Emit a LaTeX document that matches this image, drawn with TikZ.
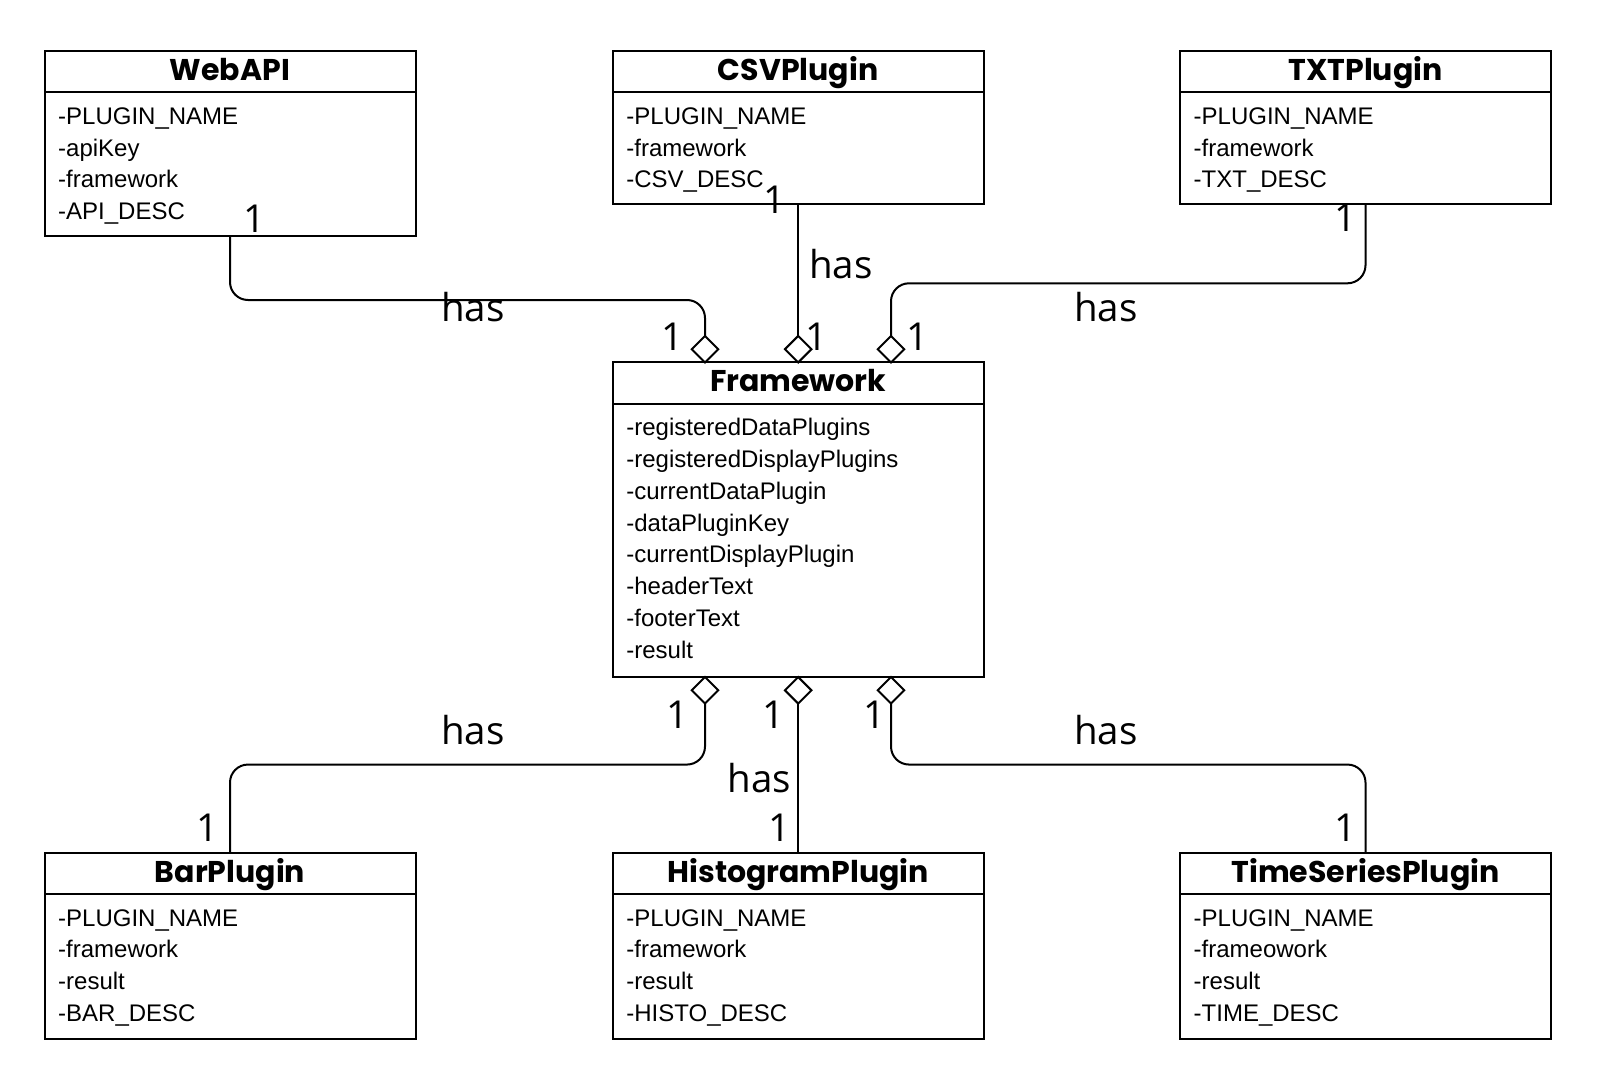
\documentclass[tikz,border=0pt]{standalone}
\usepackage{fontspec}
\setmainfont{Liberation Sans}
\newfontfamily\titlefont{Poppins}
\newfontfamily\labelfont{Open Sans}
\usetikzlibrary{shapes.geometric}
\tikzset{
  cls/.style={draw, line width=2pt, fill=white, inner sep=0pt, outer sep=0pt, minimum width=371pt, anchor=north west},
  ttl/.style={anchor=base, inner sep=0pt, font={\titlefont\bfseries\fontsize{30}{33}\selectfont}},
  attr/.style={anchor=base west, inner sep=0pt, font={\fontsize{24}{28}\selectfont}},
  lbl/.style={anchor=base, inner sep=0pt, font={\labelfont\fontsize{38.5}{44}\selectfont}},
  agg/.style={diamond, draw, line width=2pt, fill=white, inner sep=0pt, outer sep=0pt, minimum width=26.5pt, minimum height=26.5pt},
  conn/.style={draw, line width=2pt, rounded corners=18pt},
  divider/.style={line width=2pt}
}
\newcommand{\umlhead}[2]{%
  \draw[divider] ([yshift=-41.3pt]#1.north west) -- ([yshift=-41.3pt]#1.north east);
  \node[ttl] (#1-title) at ([yshift=-29.5pt]#1.north) {#2};
}
\newcommand{\umlrows}[2]{%
  \foreach \t [count=\i from 0] in {#2} {
    \node[attr] (#1-row\i) at ([xshift=13.5pt,yshift={-73.3pt-\i*31.8pt}]#1.north west) {\t};
  }
}
\begin{document}
\begin{tikzpicture}[x=1pt,y=-1pt]
\fill[white] (0,0) rectangle (1604,1086);
\useasboundingbox (0,0) rectangle (1604,1086);

% classes
\node[cls, minimum height=185.5pt] (webapi) at (44.5,51) {};
\umlhead{webapi}{WebAPI}
\umlrows{webapi}{-PLUGIN\_NAME,-apiKey,-framework,-API\_DESC}

\node[cls, minimum height=153.3pt] (csv) at (612.7,51) {};
\umlhead{csv}{CSVPlugin}
\umlrows{csv}{-PLUGIN\_NAME,-framework,-CSV\_DESC}

\node[cls, minimum height=153.3pt] (txt) at (1180,51) {};
\umlhead{txt}{TXTPlugin}
\umlrows{txt}{-PLUGIN\_NAME,-framework,-TXT\_DESC}

\node[cls, minimum height=314.4pt] (fw) at (612.7,362.3) {};
\umlhead{fw}{Framework}
\umlrows{fw}{-registeredDataPlugins,-registeredDisplayPlugins,-currentDataPlugin,-dataPluginKey,-currentDisplayPlugin,-headerText,-footerText,-result}

\node[cls, minimum height=186pt] (bar) at (44.5,852.7) {};
\umlhead{bar}{BarPlugin}
\umlrows{bar}{-PLUGIN\_NAME,-framework,-result,-BAR\_DESC}

\node[cls, minimum height=186pt] (histo) at (612.7,852.7) {};
\umlhead{histo}{HistogramPlugin}
\umlrows{histo}{-PLUGIN\_NAME,-framework,-result,-HISTO\_DESC}

\node[cls, minimum height=186pt] (ts) at (1180,852.7) {};
\umlhead{ts}{TimeSeriesPlugin}
\umlrows{ts}{-PLUGIN\_NAME,-frameowork,-result,-TIME\_DESC}

% aggregation diamonds
\node[agg] (dwa) at (705,349.2) {};
\node[agg] (dcsv) at (798.2,349.2) {};
\node[agg] (dtxt) at (891,349.2) {};
\node[agg] (dbar) at (705,690.3) {};
\node[agg] (dhis) at (798.2,690.3) {};
\node[agg] (dts) at (891,690.3) {};

% connectors
\draw[conn] (webapi.south) -- ++(0,63.5) -| (dwa.north);
\draw[conn] (csv.south) -- (dcsv.north);
\draw[conn] (txt.south) -- ++(0,79) -| (dtxt.north);
\draw[conn] (dbar.south) -- ++(0,61) -| (bar.north);
\draw[conn] (dhis.south) -- (histo.north);
\draw[conn] (dts.south) -- ++(0,61) -| (ts.north);

% association labels
\node[lbl] (has1) at (473,321) {has};
\node[lbl] (has2) at (841,279) {has};
\node[lbl] (has3) at (1106,321) {has};
\node[lbl] (has4) at (473,744) {has};
\node[lbl] (has5) at (759.5,792.7) {has};
\node[lbl] (has6) at (1106,744) {has};

% multiplicities
\node[lbl] (m1) at (255,233) {1};
\node[lbl] (m2) at (774,214) {1};
\node[lbl] (m3) at (1345,232) {1};
\node[lbl] (m4) at (672.5,350) {1};
\node[lbl] (m5) at (816.5,350) {1};
\node[lbl] (m6) at (917.5,350) {1};
\node[lbl] (m7) at (677,728) {1};
\node[lbl] (m8) at (773,728) {1};
\node[lbl] (m9) at (874,728) {1};
\node[lbl] (m10) at (208,841) {1};
\node[lbl] (m11) at (779,841) {1};
\node[lbl] (m12) at (1345.6,841) {1};
\end{tikzpicture}
\end{document}
